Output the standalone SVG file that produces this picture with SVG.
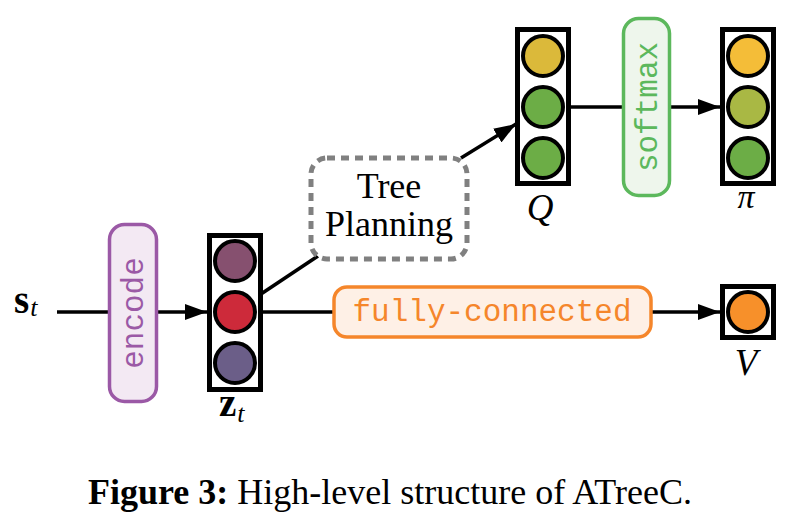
<svg xmlns="http://www.w3.org/2000/svg" width="804" height="522" viewBox="0 0 804 522">
<style>
.col{fill:#fff;stroke:#000;stroke-width:5}
.c{stroke:#000;stroke-width:4}
.ln{stroke:#000;stroke-width:3.5;fill:none}
.mono{font-family:"Liberation Mono","Courier New",monospace;font-size:31px}
.serif{font-family:"Liberation Serif","Times New Roman",serif}
</style>
<defs>
<marker id="ah" markerUnits="userSpaceOnUse" markerWidth="24" markerHeight="16" refX="22" refY="8" orient="auto">
<path d="M0,0 L22,8 L0,16 Z" fill="#000"/>
</marker>
</defs>
<rect width="804" height="522" fill="#fff"/>
<g id="connectors">
<line class="ln" x1="57" y1="312" x2="207" y2="312" marker-end="url(#ah)"/>
<line class="ln" x1="261" y1="294" x2="318" y2="256"/>
<line class="ln" x1="461" y1="158" x2="516" y2="124" marker-end="url(#ah)"/>
<line class="ln" x1="568" y1="107" x2="720" y2="107" marker-end="url(#ah)"/>
<line class="ln" x1="261" y1="312" x2="334" y2="312"/>
<line class="ln" x1="652" y1="312" x2="720" y2="312" marker-end="url(#ah)"/>
</g>
<g id="encode">
<rect x="109.5" y="224.5" width="47" height="177" rx="15" fill="#f3e9f3" stroke="#9b59a6" stroke-width="3.5"/>
<text class="mono" fill="#9b59a6" text-anchor="middle" transform="translate(143,313) rotate(-90)">encode</text>
</g>
<g id="zt">
<rect class="col" x="209.5" y="235.5" width="51" height="154"/>
<circle class="c" cx="235" cy="261" r="20" fill="#86506f"/>
<circle class="c" cx="235" cy="312" r="20" fill="#cd2a3a"/>
<circle class="c" cx="235" cy="363" r="20" fill="#6b5e88"/>
</g>
<g id="tree-planning">
<rect x="311" y="158" width="156" height="101" rx="16" fill="#fff" stroke="#808080" stroke-width="5" stroke-dasharray="8,6"/>
<text class="serif" font-size="36" text-anchor="middle" x="389" y="198">Tree</text>
<text class="serif" font-size="36" text-anchor="middle" x="389" y="236">Planning</text>
</g>
<g id="Q">
<rect class="col" x="517.5" y="29.5" width="51" height="154"/>
<circle class="c" cx="543" cy="56" r="20" fill="#dbb93a"/>
<circle class="c" cx="543" cy="107" r="20" fill="#6cad46"/>
<circle class="c" cx="543" cy="158" r="20" fill="#6cad46"/>
</g>
<g id="softmax">
<rect x="623.5" y="18.5" width="46" height="177" rx="15" fill="#eef6ec" stroke="#5cb85c" stroke-width="3.5"/>
<text class="mono" fill="#5cb85c" text-anchor="middle" transform="translate(657,107) rotate(-90)">softmax</text>
</g>
<g id="pi">
<rect class="col" x="722.5" y="29.5" width="51" height="154"/>
<circle class="c" cx="748" cy="56" r="20" fill="#f4bd38"/>
<circle class="c" cx="748" cy="107" r="20" fill="#a9b844"/>
<circle class="c" cx="748" cy="158" r="20" fill="#6cad46"/>
</g>
<g id="fully-connected">
<rect x="334" y="287" width="317" height="50" rx="13" fill="#fef0e6" stroke="#f5862b" stroke-width="3.5"/>
<text class="mono" fill="#f5862b" font-size="32.5" text-anchor="middle" x="492" y="321">fully-connected</text>
</g>
<g id="V">
<rect class="col" x="722.5" y="286.5" width="51" height="51"/>
<circle class="c" cx="748" cy="312" r="20" fill="#f7902a"/>
</g>
<g id="labels" class="serif">
<text x="14" y="313" font-size="39" font-weight="bold">s<tspan font-size="26" font-weight="normal" font-style="italic" dx="1" dy="3">t</tspan></text>
<text x="219" y="416" font-size="39" font-weight="bold">z<tspan font-size="26" font-weight="normal" font-style="italic" dx="1" dy="6">t</tspan></text>
<text x="540" y="220" font-size="37" font-style="italic" text-anchor="middle">Q</text>
<text x="746" y="208" font-size="34" font-style="italic" text-anchor="middle">π</text>
<text x="746" y="375" font-size="37" font-style="italic" text-anchor="middle">V</text>
<text x="88" y="504" font-size="36"><tspan font-weight="bold">Figure 3:</tspan> High-level structure of ATreeC.</text>
</g>
</svg>
